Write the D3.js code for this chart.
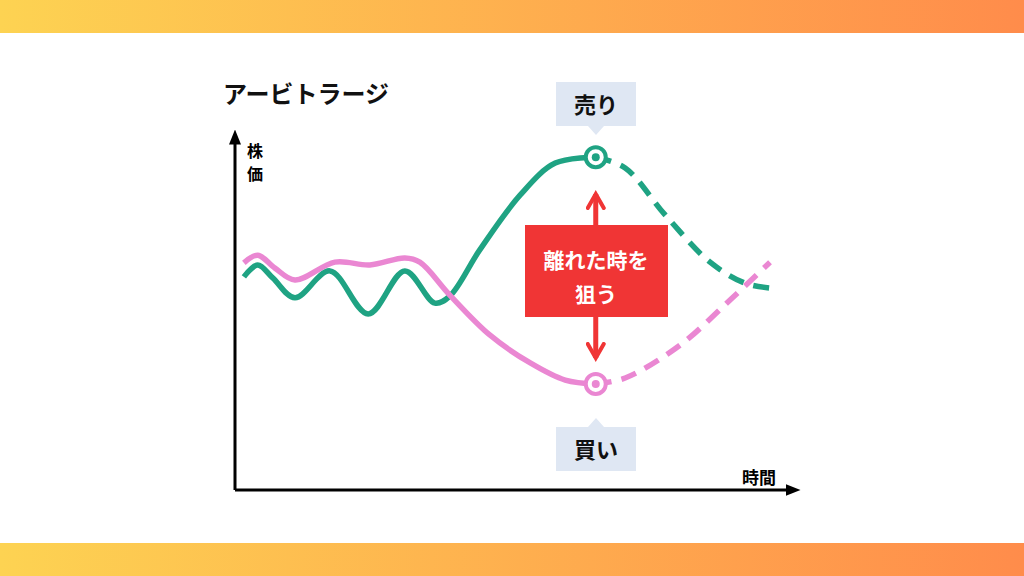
<!DOCTYPE html>
<html><head><meta charset="utf-8">
<script src="https://cdn.jsdelivr.net/npm/d3@7"></script>
<style>body{margin:0;background:#fff}svg{display:block;font-family:"Noto Sans CJK JP",sans-serif}</style>
</head><body><div id="chart"></div>
<script>
// time 0..100, price 0..100
const greenSolid = [[1.6,60.9],[4.1,64.3],[6.8,60.6],[10.8,54.9],[17.1,62.6],[24,50.3],[30.6,62.6],[36,53.4],[38.7,55.4],[44.1,68.6],[51.4,84.3],[57.7,93.4],[65,95.1]]
const greenDash = [[65,95.1],[70.3,92],[77.5,78.6],[85.6,65.1],[91.9,59.1],[96.4,57.7]]
const pinkSolid = [[1.6,64.9],[4.1,67.1],[7.2,63.4],[10.8,60],[18,65.1],[24.3,64.3],[30.6,66.3],[33.3,65.1],[38.7,55.7],[45.9,44.3],[53.2,36.3],[59.5,31.4],[65,30.3]]
const pinkDash = [[65,30.3],[70.3,32],[80.2,41.4],[89.2,54.3],[96.4,65.1]]
const labels = {title:"アービトラージ", y:["株","価"], x:"時間", sell:"売り", buy:"買い", note:["離れた時を","狙う"]}

const W = 1024, H = 576
const svg = d3.select("#chart").append("svg").attr("width", W).attr("height", H)
const xs = d3.scaleLinear().domain([0,100]).range([235,790])
const ys = d3.scaleLinear().domain([0,100]).range([490,140])

const grad = svg.append("defs").append("linearGradient").attr("id","bg")
grad.append("stop").attr("offset","0%").attr("stop-color","#fdd352")
grad.append("stop").attr("offset","100%").attr("stop-color","#ff8c4b")
svg.append("rect").attr("width",W).attr("height",33).attr("fill","url(#bg)")
svg.append("rect").attr("y",543).attr("width",W).attr("height",33).attr("fill","url(#bg)")

const mk = svg.append("defs")
mk.append("marker").attr("id","ax").attr("viewBox","0 0 10 10").attr("refX",5).attr("refY",5)
	.attr("markerWidth",5).attr("markerHeight",5).attr("orient","auto")
	.append("path").attr("d","M0,1L10,5L0,9Z").attr("fill","#000")
mk.append("marker").attr("id","ra").attr("viewBox","0 0 10 10").attr("refX",8).attr("refY",5)
	.attr("markerWidth",4).attr("markerHeight",4).attr("orient","auto").attr("markerUnits","strokeWidth")
	.append("path").attr("d","M1,1L8,5L1,9").attr("fill","none").attr("stroke","#f03535").attr("stroke-width",2).attr("stroke-linecap","round")

// axes
svg.append("line").attr("x1",xs(0)).attr("y1",ys(0)).attr("x2",xs(0)).attr("y2",137)
	.attr("stroke","#000").attr("stroke-width",3).attr("marker-end","url(#ax)")
svg.append("line").attr("x1",xs(0)).attr("y1",ys(0)).attr("x2",793).attr("y2",ys(0))
	.attr("stroke","#000").attr("stroke-width",3).attr("marker-end","url(#ax)")

const line = d3.line().x(d => xs(d[0])).y(d => ys(d[1])).curve(d3.curveCatmullRom)
const draw = (data, color, dash) => svg.append("path").datum(data).attr("d", line)
	.attr("fill","none").attr("stroke",color).attr("stroke-width",5.5).attr("stroke-dasharray",dash)
const green = "#1fa383", pink = "#ea87d2"
draw(greenSolid, green, null)
draw(greenDash, green, "16,10")
draw(pinkSolid, pink, null)
draw(pinkDash, pink, "16,10")

const dot = (p, color) => {
	svg.append("circle").attr("cx",xs(p[0])).attr("cy",ys(p[1])).attr("r",10).attr("fill","#fff").attr("stroke",color).attr("stroke-width",4)
	svg.append("circle").attr("cx",xs(p[0])).attr("cy",ys(p[1])).attr("r",4).attr("fill",color)
}
dot(greenSolid[greenSolid.length-1], green)
dot(pinkSolid[pinkSolid.length-1], pink)

// red arrows
const ax = xs(65)
svg.append("line").attr("x1",ax).attr("y1",226).attr("x2",ax).attr("y2",194).attr("stroke","#f03535").attr("stroke-width",5).attr("marker-end","url(#ra)")
svg.append("line").attr("x1",ax).attr("y1",316).attr("x2",ax).attr("y2",358).attr("stroke","#f03535").attr("stroke-width",5).attr("marker-end","url(#ra)")
svg.append("rect").attr("x",525).attr("y",225).attr("width",143).attr("height",92).attr("fill","#f03535")
labels.note.forEach((t,i) => svg.append("text").attr("x",596).attr("y",268+i*34).attr("text-anchor","middle")
	.attr("fill","#fff").attr("font-size",21).attr("font-weight",700).text(t))

// callouts
const callout = (y, up, text) => {
	svg.append("rect").attr("x",556).attr("y",y).attr("width",80).attr("height",44).attr("fill","#dfe7f3")
	const cx = 596
	svg.append("path").attr("fill","#dfe7f3").attr("d", up
		? `M${cx-8},${y}L${cx},${y-9}L${cx+8},${y}Z`
		: `M${cx-8},${y+44}L${cx},${y+53}L${cx+8},${y+44}Z`)
	svg.append("text").attr("x",cx).attr("y",y+31).attr("text-anchor","middle").attr("font-size",22).attr("font-weight",700).attr("fill","#111").text(text)
}
callout(82, false, labels.sell)
callout(427, true, labels.buy)

svg.append("text").attr("x",223).attr("y",103).attr("font-size",24).attr("font-weight",700).attr("fill","#111").text(labels.title)
labels.y.forEach((t,i) => svg.append("text").attr("x",247).attr("y",157+i*23).attr("font-size",16).attr("font-weight",700).text(t))
svg.append("text").attr("x",742).attr("y",484).attr("font-size",17).attr("font-weight",700).text(labels.x)
</script></body></html>
